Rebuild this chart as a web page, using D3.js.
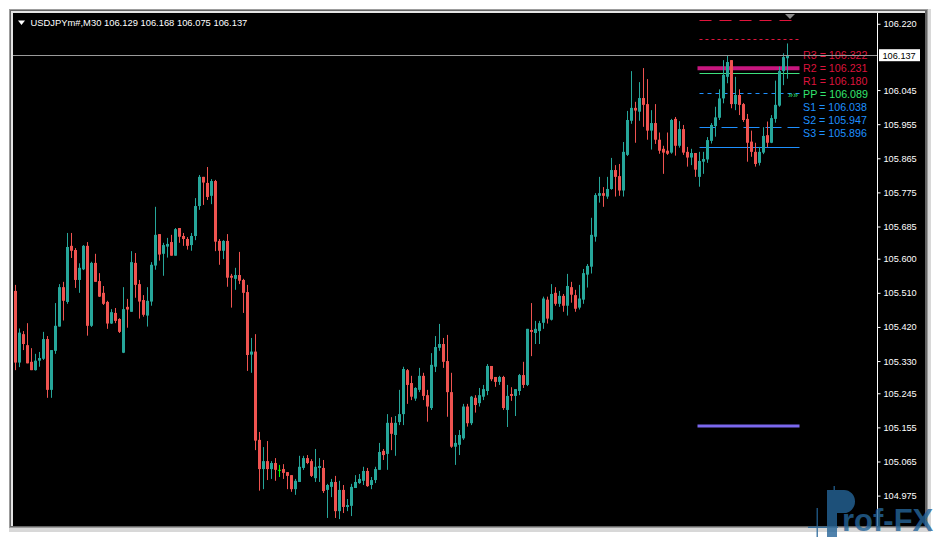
<!DOCTYPE html>
<html><head><meta charset="utf-8">
<script src="https://cdn.jsdelivr.net/npm/d3@7"></script>
<style>body{margin:0;background:#fff;}svg{display:block;font-family:"Liberation Sans",Arial,sans-serif;}</style>
</head><body><svg id="c" width="936" height="537"></svg>
<script>
const symbolLabel = "USDJPYm#,M30";
const opens = [105.515,105.326,105.401,105.372,105.328,105.306,105.331,105.336,105.388,105.254,105.357,105.421,105.525,105.486,105.634,105.623,105.544,105.572,105.634,105.423,105.589,105.541,105.510,105.486,105.429,105.457,105.441,105.352,105.473,105.460,105.589,105.533,105.491,105.450,105.487,105.582,105.665,105.613,105.632,105.644,105.608,105.681,105.660,105.652,105.636,105.660,105.739,105.816,105.800,105.766,105.805,105.647,105.621,105.647,105.555,105.547,105.557,105.544,105.512,105.347,105.355,105.122,105.045,105.066,105.045,105.061,105.043,105.045,105.037,105.029,104.992,105.011,105.048,105.074,105.066,105.021,105.048,105.048,104.990,104.998,105.011,104.934,104.990,104.945,104.948,104.995,105.008,105.014,105.040,105.003,105.016,105.043,105.093,105.085,105.167,105.135,105.169,105.190,105.306,105.272,105.231,105.254,105.291,105.240,105.206,105.315,105.365,105.375,105.330,105.248,105.104,105.109,105.126,105.210,105.166,105.233,105.219,105.236,105.251,105.317,105.288,105.275,105.288,105.201,105.243,105.238,105.251,105.293,105.267,105.412,105.404,105.409,105.431,105.492,105.439,105.510,105.481,105.502,105.476,105.525,105.504,105.471,105.492,105.558,105.579,105.658,105.766,105.773,105.764,105.784,105.834,105.818,105.780,105.874,105.964,105.998,105.988,106.024,106.008,105.938,105.958,105.914,105.890,105.885,105.880,105.969,105.898,105.942,105.882,105.867,105.879,105.816,105.856,105.862,105.911,105.950,105.972,106.023,106.080,106.124,106.008,106.032,106.008,105.969,105.909,105.882,105.853,105.880,105.926,105.906,105.969,106.004,106.095,106.129];
const highs = [105.531,105.416,105.409,105.430,105.364,105.349,105.354,105.407,105.396,105.359,105.483,105.533,105.539,105.668,105.668,105.628,105.588,105.636,105.644,105.592,105.613,105.562,105.528,105.489,105.467,105.470,105.443,105.525,105.494,105.620,105.615,105.544,105.504,105.525,105.591,105.737,105.665,105.642,105.655,105.663,105.681,105.681,105.668,105.657,105.668,105.760,105.821,105.816,105.842,105.810,105.808,105.652,105.649,105.665,105.560,105.576,105.618,105.547,105.531,105.391,105.401,105.143,105.103,105.119,105.066,105.074,105.056,105.058,105.037,105.029,105.019,105.080,105.080,105.082,105.071,105.098,105.074,105.069,105.006,105.019,105.027,105.014,105.003,104.966,105.006,105.029,105.032,105.051,105.048,105.024,105.051,105.114,105.098,105.190,105.182,105.185,105.254,105.315,105.309,105.291,105.261,105.312,105.299,105.254,105.351,105.396,105.428,105.391,105.399,105.299,105.135,105.148,105.217,105.217,105.238,105.240,105.259,105.267,105.322,105.317,105.288,105.291,105.291,105.267,105.261,105.256,105.296,105.328,105.415,105.483,105.436,105.436,105.500,105.500,105.533,105.525,105.515,105.507,105.560,105.539,105.518,105.531,105.573,105.586,105.708,105.773,105.816,105.789,105.816,105.866,105.847,105.850,105.908,105.990,106.095,106.014,106.066,106.103,106.074,105.992,106.008,105.933,105.898,105.933,105.969,105.974,105.963,105.953,105.895,105.890,105.879,105.882,105.882,105.921,105.958,106.001,106.047,106.124,106.135,106.124,106.080,106.047,106.011,105.982,105.938,105.906,105.895,105.947,105.962,105.979,106.070,106.107,106.142,106.168];
const lows = [105.306,105.314,105.359,105.324,105.306,105.305,105.315,105.333,105.233,105.233,105.349,105.421,105.437,105.481,105.602,105.523,105.510,105.570,105.397,105.420,105.539,105.499,105.478,105.415,105.428,105.430,105.404,105.351,105.418,105.460,105.497,105.442,105.447,105.421,105.476,105.571,105.595,105.555,105.603,105.608,105.608,105.642,105.634,105.624,105.621,105.649,105.729,105.742,105.755,105.744,105.620,105.584,105.599,105.526,105.471,105.518,105.533,105.457,105.304,105.299,105.095,104.988,104.992,105.016,105.019,105.014,105.024,105.019,104.992,104.985,104.977,105.011,105.043,105.058,105.024,105.011,105.011,104.982,104.916,104.971,104.916,104.913,104.929,104.934,104.921,104.995,105.006,105.003,104.998,104.992,105.008,105.043,105.069,105.043,105.095,105.080,105.161,105.161,105.217,105.227,105.225,105.248,105.227,105.170,105.201,105.301,105.357,105.312,105.183,105.101,105.056,105.082,105.122,105.157,105.161,105.194,105.210,105.227,105.240,105.277,105.262,105.267,105.201,105.156,105.225,105.185,105.240,105.259,105.264,105.343,105.375,105.375,105.415,105.429,105.437,105.476,105.473,105.460,105.450,105.484,105.460,105.466,105.481,105.524,105.561,105.645,105.748,105.737,105.758,105.782,105.764,105.766,105.764,105.871,105.956,105.906,105.964,105.948,105.914,105.888,105.903,105.877,105.824,105.874,105.877,105.872,105.893,105.874,105.843,105.847,105.816,105.790,105.824,105.853,105.904,105.922,105.966,106.010,106.063,105.997,105.992,105.979,105.961,105.856,105.869,105.843,105.846,105.876,105.894,105.905,105.959,106.001,106.058,106.075];
const closes = [105.326,105.405,105.375,105.324,105.306,105.331,105.338,105.388,105.254,105.359,105.423,105.525,105.489,105.631,105.621,105.544,105.576,105.634,105.423,105.589,105.539,105.500,105.481,105.429,105.459,105.436,105.407,105.467,105.466,105.591,105.531,105.487,105.452,105.489,105.584,105.663,105.611,105.636,105.639,105.608,105.678,105.658,105.652,105.634,105.660,105.739,105.816,105.801,105.763,105.805,105.645,105.621,105.647,105.550,105.550,105.557,105.542,105.510,105.346,105.355,105.120,105.045,105.066,105.045,105.061,105.043,105.043,105.035,105.027,104.992,105.014,105.051,105.074,105.061,105.027,105.051,105.053,104.987,105.003,105.011,104.934,104.990,104.945,104.950,104.998,105.011,105.019,105.040,105.000,105.016,105.045,105.090,105.082,105.167,105.138,105.167,105.190,105.309,105.267,105.236,105.259,105.291,105.238,105.210,105.320,105.367,105.375,105.328,105.248,105.104,105.114,105.135,105.210,105.166,105.236,105.214,105.240,105.256,105.317,105.282,105.275,105.288,105.206,105.238,105.238,105.256,105.293,105.267,105.415,105.407,105.415,105.430,105.495,105.442,105.507,105.481,105.502,105.476,105.528,105.505,105.468,105.495,105.562,105.581,105.663,105.768,105.773,105.766,105.784,105.834,105.816,105.780,105.882,105.966,105.998,105.991,106.024,106.006,105.938,105.958,105.914,105.885,105.880,105.877,105.966,105.898,105.942,105.880,105.867,105.879,105.835,105.858,105.863,105.913,105.953,105.973,106.023,106.085,106.119,106.008,106.032,106.006,105.966,105.906,105.882,105.850,105.882,105.924,105.906,105.971,106.006,106.095,106.132,106.137];
const yTickValues = [106.220,106.045,105.955,105.865,105.775,105.685,105.600,105.510,105.420,105.330,105.245,105.155,105.065,104.975];
const pivotNames = ["R3","R2","R1","PP","S1","S2","S3"];
const pivotValues = [106.322,106.231,106.180,106.089,106.038,105.947,105.896];
const pivotSpan = [171,196];        // bar index range of the pivot lines
const dayOpenLevel = 106.1025;      // thick magenta level
const lowerLevel = 105.1587;        // thick purple level
const currentPrice = closes[closes.length-1];

const svg = d3.select("#c");
// window frame
const fr=[[9,9,922,523,"#d8d8d8"],[9,9,919,519,"#9c9c9c"],[10,10,917,517,"#646464"],[11,11,914,515,"#e4e4e4"],[13,13,912,513,"#000"]];
svg.selectAll("rect.fr").data(fr).join("rect").attr("class","fr").attr("x",d=>d[0]).attr("y",d=>d[1]).attr("width",d=>d[2]).attr("height",d=>d[3]).attr("fill",d=>d[4]);

const xs = d3.scaleLinear().domain([0, closes.length-1]).range([15.5, 787.5]);
const ys = d3.scaleLinear().domain([104.975, 106.220]).range([495.6, 23.75]);
const axisX = 877.5;

svg.append("clipPath").attr("id","plot").append("rect").attr("x",13).attr("y",13).attr("width",axisX-13).attr("height",513);
const g = svg.append("g").attr("clip-path","url(#plot)");

// pivot lines
const pStyle = {R3:["#e0143c","12,8"],R2:["#e0143c","12,8"],R1:["#e0143c","3,3"],PP:["#3ee07e","none"],S1:["#1e90ff","4,4"],S2:["#1e90ff","16,6"],S3:["#1e90ff","none"]};
g.selectAll("line.pv").data(pivotNames.map((n,i)=>({n,v:pivotValues[i]}))).join("line")
 .attr("class","pv")
 .attr("x1",xs(pivotSpan[0])).attr("x2",xs(pivotSpan[1]))
 .attr("y1",d=>Math.round(ys(d.v))+0.5).attr("y2",d=>Math.round(ys(d.v))+0.5)
 .style("stroke",d=>pStyle[d.n][0]).style("stroke-dasharray",d=>pStyle[d.n][1]).style("stroke-width","1.2px");
g.append("line").attr("x1",xs(pivotSpan[0]-0.5)).attr("x2",xs(pivotSpan[1])).attr("y1",ys(dayOpenLevel)).attr("y2",ys(dayOpenLevel)).style("stroke","#c8177f").style("stroke-width","4px");
g.append("line").attr("x1",xs(pivotSpan[0]-0.5)).attr("x2",xs(pivotSpan[1])).attr("y1",ys(lowerLevel)).attr("y2",ys(lowerLevel)).style("stroke","#7b68ee").style("stroke-width","3px");

// candles
const bars = opens.map((o,i)=>({i,o,h:highs[i],l:lows[i],c:closes[i]}));
const col = d => d.c>d.o ? "#26a69a" : (d.c<d.o ? "#ef5350" : "#00ff00");
g.selectAll("line.wick").data(bars).join("line").attr("class","wick")
 .attr("x1",d=>xs(d.i)).attr("x2",d=>xs(d.i)).attr("y1",d=>ys(d.h)).attr("y2",d=>ys(d.l))
 .style("stroke",col).style("stroke-width","1px");
g.selectAll("rect.body").data(bars).join("rect").attr("class","body")
 .attr("x",d=>xs(d.i)-1.5).attr("width",3)
 .attr("y",d=>ys(Math.max(d.o,d.c))).attr("height",d=>Math.max(1,Math.abs(ys(d.o)-ys(d.c))))
 .attr("fill",col);

// current price line
const cpLineY = Math.round(ys(currentPrice))+0.5;
g.append("line").attr("x1",13).attr("x2",axisX).attr("y1",cpLineY).attr("y2",cpLineY).style("stroke","#9a9a9a").style("stroke-width","1px");

// shift marker
svg.append("path").attr("d","M785,14 L795,14 L790,19 Z").attr("fill","#8a8a8a");

// pivot labels
const lblX = xs(pivotSpan[1])+3.5;
const lblColor = n => n[0]==="R" ? "#dc143c" : (n==="PP" ? "#33e66f" : "#1e90ff");
svg.selectAll("text.pl").data(pivotNames.map((n,i)=>({n,v:pivotValues[i],k:i}))).join("text").attr("class","pl")
 .attr("x",lblX).attr("y",d=>55.5+13*d.k).attr("dy","0.36em")
 .attr("font-size","10.7px").attr("fill",d=>lblColor(d.n))
 .text(d=>`${d.n} = ${d.v.toFixed(3)}`);
svg.append("text").attr("x",788).attr("y",94.5).attr("dy","0.36em").attr("font-size","9px").attr("fill","#33e66f").text("»»");
svg.append("line").attr("x1",lblX-2).attr("x2",axisX).attr("y1",cpLineY).attr("y2",cpLineY).style("stroke","#9a9a9a").style("stroke-width","1px");

// y axis
svg.append("line").attr("x1",axisX).attr("x2",axisX).attr("y1",13).attr("y2",526).style("stroke","#fff");
const yAxis = d3.axisRight(ys).tickValues(yTickValues).tickFormat(d3.format(".3f")).tickSize(3).tickPadding(3);
const ag = svg.append("g").attr("transform",`translate(${axisX},0)`).call(yAxis);
ag.select(".domain").remove();
ag.selectAll(".tick line").style("stroke","#fff");
ag.selectAll("text").attr("fill","#fff").attr("font-size","9.2px").attr("font-family","Liberation Sans, Arial, sans-serif");

// current price box
const cpY = ys(currentPrice);
svg.append("rect").attr("x",879).attr("y",cpY-6).attr("width",41).attr("height",12).attr("fill","#fff");
svg.append("text").attr("x",882.5).attr("y",cpY).attr("dy","0.36em").attr("font-size","9.2px").attr("fill","#000").text(currentPrice.toFixed(3));

// header
svg.append("path").attr("d","M18,20.5 L25,20.5 L21.5,25 Z").attr("fill","#fff");
svg.append("text").attr("x",30.5).attr("y",26).attr("font-size","9.4px").attr("fill","#fff")
 .text(`${symbolLabel} ${opens[opens.length-1].toFixed(3)} ${highs[highs.length-1].toFixed(3)} ${lows[lows.length-1].toFixed(3)} ${closes[closes.length-1].toFixed(3)}`);

// watermark
const wm = svg.append("g").attr("opacity",0.8).attr("fill","rgb(37,100,152)");
wm.append("path").attr("d","M827,490 H844 A11,11.5 0 0 1 844,513 H837 V540 H827 Z");
wm.append("rect").attr("x",833.5).attr("y",486).attr("width",1.5).attr("height",6);
wm.append("rect").attr("x",816.5).attr("y",508).attr("width",1.5).attr("height",30);
wm.append("rect").attr("x",808).attr("y",526.5).attr("width",30).attr("height",1.5);
wm.append("text").attr("x",842).attr("y",531).attr("font-size","31px").attr("font-weight","bold").text("rof-FX");
</script></body></html>
